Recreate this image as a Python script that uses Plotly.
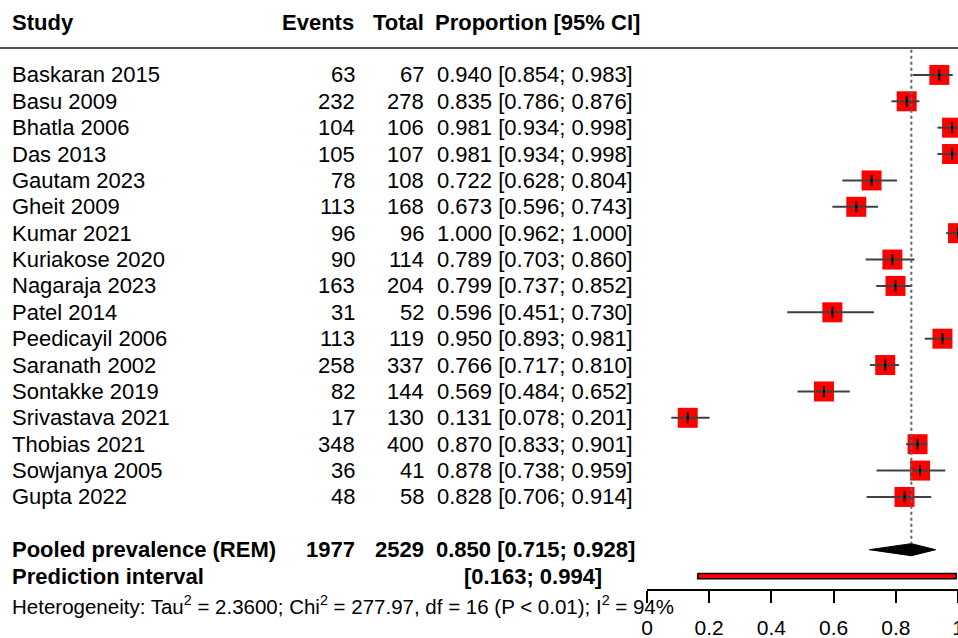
import plotly.graph_objects as go

# Study-level data
studies = ["Baskaran 2015", "Basu 2009", "Bhatla 2006", "Das 2013", "Gautam 2023",
           "Gheit 2009", "Kumar 2021", "Kuriakose 2020", "Nagaraja 2023", "Patel 2014",
           "Peedicayil 2006", "Saranath 2002", "Sontakke 2019", "Srivastava 2021",
           "Thobias 2021", "Sowjanya 2005", "Gupta 2022"]
events = [63, 232, 104, 105, 78, 113, 96, 90, 163, 31, 113, 258, 82, 17, 348, 36, 48]
totals = [67, 278, 106, 107, 108, 168, 96, 114, 204, 52, 119, 337, 144, 130, 400, 41, 58]
prop = [0.940, 0.835, 0.981, 0.981, 0.722, 0.673, 1.000, 0.789, 0.799, 0.596,
        0.950, 0.766, 0.569, 0.131, 0.870, 0.878, 0.828]
ci_lo = [0.854, 0.786, 0.934, 0.934, 0.628, 0.596, 0.962, 0.703, 0.737, 0.451,
         0.893, 0.717, 0.484, 0.078, 0.833, 0.738, 0.706]
ci_hi = [0.983, 0.876, 0.998, 0.998, 0.804, 0.743, 1.000, 0.860, 0.852, 0.730,
         0.981, 0.810, 0.652, 0.201, 0.901, 0.959, 0.914]

# Pooled estimate (random effects) and prediction interval
pooled_events, pooled_total = 1977, 2529
pooled_est, pooled_lo, pooled_hi = 0.850, 0.715, 0.928
pred_lo, pred_hi = 0.163, 0.994
het_text = ("Heterogeneity: Tau<sup>2</sup> = 2.3600; Chi<sup>2</sup> = 277.97, "
            "df = 16 (P < 0.01); I<sup>2</sup> = 94%")

x_ticks = [0, 0.2, 0.4, 0.6, 0.8, 1]
x_tick_labels = ["0", "0.2", "0.4", "0.6", "0.8", "1"]

W, H = 958, 638
MB = 49                      # space below the x axis line
PLOT_H = H - MB
FONT = "Liberation Sans, Arial, sans-serif"
FS = 22

rows = list(range(len(studies)))
row_pooled = len(studies) + 1
row_pred = row_pooled + 1
row_head = -2.0
row_rule = -1.02


def px(x):
    return x / W


fig = go.Figure()

# study squares
fig.add_trace(go.Scatter(
    x=prop, y=rows, mode="markers",
    marker=dict(symbol="square", size=20, color="#ff0000", line=dict(width=0)),
    cliponaxis=False, hoverinfo="skip", showlegend=False))

# confidence interval whiskers
cx, cy = [], []
for r, a, b in zip(rows, ci_lo, ci_hi):
    cx += [a, b, None]
    cy += [r, r, None]
fig.add_trace(go.Scatter(
    x=cx, y=cy, mode="lines", line=dict(color="#404040", width=2),
    cliponaxis=False, hoverinfo="skip", showlegend=False))

# point-estimate tick
fig.add_trace(go.Scatter(
    x=prop, y=rows, mode="markers",
    marker=dict(symbol="line-ns", size=8, line=dict(color="black", width=2)),
    cliponaxis=False, hoverinfo="skip", showlegend=False))

# reference line at the pooled estimate
fig.add_trace(go.Scatter(
    x=[pooled_est, pooled_est], y=[-0.95, row_pooled - 0.25], mode="lines",
    line=dict(color="#666666", width=2, dash="dot"),
    hoverinfo="skip", showlegend=False))

# pooled diamond
dh = 0.23
fig.add_trace(go.Scatter(
    x=[pooled_lo, pooled_est, pooled_hi, pooled_est, pooled_lo],
    y=[row_pooled, row_pooled - dh, row_pooled, row_pooled + dh, row_pooled],
    mode="lines", fill="toself", fillcolor="black", line=dict(color="black", width=1),
    hoverinfo="skip", showlegend=False))

# prediction interval bar
ph = 0.1
fig.add_trace(go.Scatter(
    x=[pred_lo, pred_hi, pred_hi, pred_lo, pred_lo],
    y=[row_pred - ph, row_pred - ph, row_pred + ph, row_pred + ph, row_pred - ph],
    mode="lines", fill="toself", fillcolor="#ff0000", line=dict(color="black", width=1.5),
    cliponaxis=False, hoverinfo="skip", showlegend=False))

ann = []


def text(x, y, s, anchor="left", bold=False, size=FS, yref="y"):
    ann.append(dict(
        x=px(x), y=y, xref="paper", yref=yref, text=f"<b>{s}</b>" if bold else s,
        xanchor=anchor, yanchor="middle", showarrow=False,
        font=dict(family=FONT, size=size, color="black")))


# column headers
text(10, row_head, "Study", bold=True)
text(356, row_head, "Events", "right", bold=True)
text(426, row_head, "Total", "right", bold=True)
text(433, row_head, "Proportion [95% CI]", bold=True)

# study rows
for r, s, e, n, p, a, b in zip(rows, studies, events, totals, prop, ci_lo, ci_hi):
    text(10, r, s)
    text(357, r, str(e), "right")
    text(426, r, str(n), "right")
    text(435, r, f"{p:.3f} [{a:.3f}; {b:.3f}]")

# summary rows
text(10, row_pooled, "Pooled prevalence (REM)", bold=True)
text(357, row_pooled, str(pooled_events), "right", bold=True)
text(426, row_pooled, str(pooled_total), "right", bold=True)
text(434, row_pooled, f"{pooled_est:.3f} [{pooled_lo:.3f}; {pooled_hi:.3f}]", bold=True)
text(10, row_pred, "Prediction interval", bold=True)
text(604, row_pred, f"[{pred_lo:.3f}; {pred_hi:.3f}]", "right", bold=True)
# heterogeneity line sits below the axis line, in the bottom margin
text(10, (PLOT_H - 605) / PLOT_H, het_text, size=20.5, yref="paper")

fig.update_layout(
    width=W, height=H,
    margin=dict(l=0, r=0, t=0, b=MB),
    paper_bgcolor="white", plot_bgcolor="white",
    font=dict(family=FONT, size=FS, color="black"),
    annotations=ann,
    shapes=[dict(type="line", xref="paper", yref="y", x0=0, x1=1,
                 y0=row_rule, y1=row_rule, line=dict(color="#555555", width=2))],
    xaxis=dict(domain=[647 / W, 1], range=[0, 1.0], tickvals=x_ticks,
               ticktext=x_tick_labels, showline=True, linecolor="black", linewidth=1.5,
               ticks="outside", ticklen=12, tickwidth=1.5, tickcolor="black",
               showgrid=False, zeroline=False, automargin=False,
               ticklabeloverflow="allow",
               tickfont=dict(family=FONT, size=21, color="black"),
               ticklabelstandoff=7),
    yaxis=dict(range=[19.49, -2.84], visible=False, showgrid=False, zeroline=False),
)

fig.write_html("out.html")
